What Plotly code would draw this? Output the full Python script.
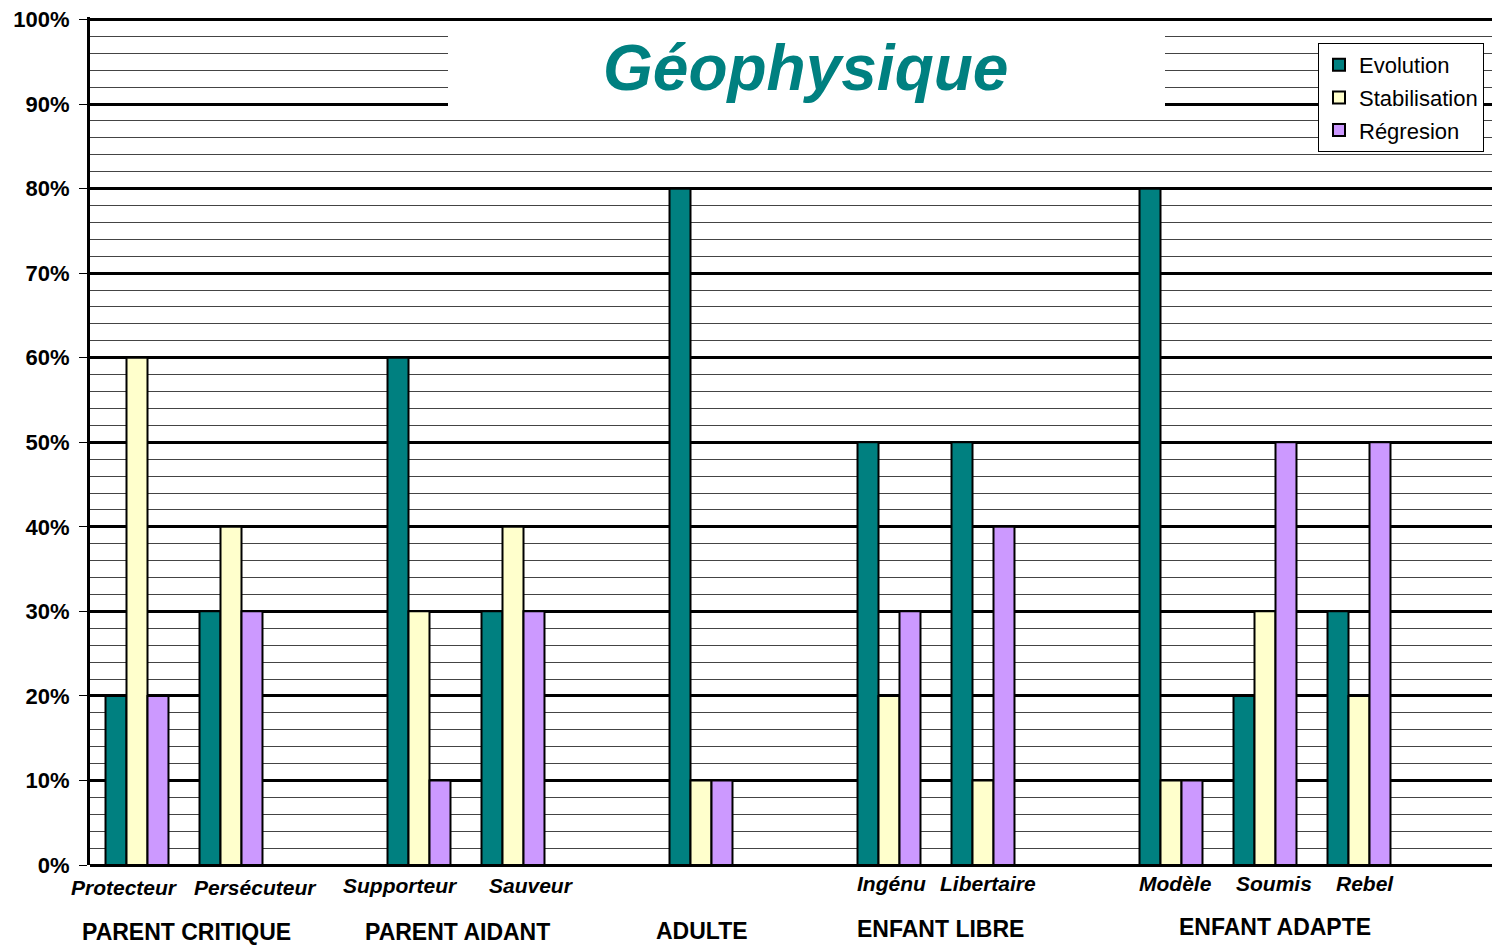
import plotly.graph_objects as go

# ---- data ----
categories = ["Protecteur", "Persécuteur", "", "Supporteur", "Sauveur", "", "Adulte", "",
              "Ingénu", "Libertaire", "", "Modèle", "Soumis", "Rebel", ""]
evolution =     [0.20, 0.30, None, 0.60, 0.30, None, 0.80, None, 0.50, 0.50, None, 0.80, 0.20, 0.30, None]
stabilisation = [0.60, 0.40, None, 0.30, 0.40, None, 0.10, None, 0.20, 0.10, None, 0.10, 0.30, 0.20, None]
regression =    [0.20, 0.30, None, 0.10, 0.30, None, 0.10, None, 0.30, 0.40, None, 0.10, 0.50, 0.50, None]
series_names = ["Evolution", "Stabilisation", "Régresion"]
group_labels = ["PARENT CRITIQUE", "PARENT AIDANT", "ADULTE", "ENFANT LIBRE", "ENFANT ADAPTE"]
title_text = "Géophysique"

# ---- style ----
colors = ["#008080", "#FFFFCC", "#CC99FF"]
FONT = "Liberation Sans, Arial, sans-serif"
xs = list(range(len(categories)))

fig = go.Figure()
for name, vals, col in zip(series_names, [evolution, stabilisation, regression], colors):
    fig.add_trace(go.Bar(
        x=xs, y=vals, name=name, legendgroup=name,
        marker=dict(color=col, line=dict(color="black", width=2)),
    ))

# category labels (bold italic), positioned under their slots
label_shift = {"Protecteur": (-13, -22), "Persécuteur": (24, -22), "Supporteur": (-19, -20),
               "Sauveur": (18, -20), "Ingénu": (2, -18), "Libertaire": (5, -18),
               "Modèle": (4, -18), "Soumis": (9, -18), "Rebel": (6, -18)}
for i, c in enumerate(categories):
    if c in label_shift:
        dx, dy = label_shift[c]
        fig.add_annotation(x=i, y=0, xref="x", yref="y", text=c, showarrow=False,
                           xshift=dx, yshift=dy,
                           font=dict(family=FONT, size=21, color="black", weight="bold", style="italic"))

# group labels
group_pos = [(0.5, -67, 2), (3.5, -67, -9), (6, -66, 1), (8.5, -64, 4), (12.0, -62, 10)]
for lab, (gx, dy, dx) in zip(group_labels, group_pos):
    fig.add_annotation(x=gx, y=0, xref="x", yref="y", text=lab, showarrow=False,
                       yshift=dy, xshift=dx,
                       font=dict(family=FONT, size=23, color="black", weight="bold"))

# white title box covering gridlines
fig.add_shape(type="rect", xref="paper", yref="y", x0=(448 - 90) / 1410, x1=(1165 - 90) / 1410,
              y0=0.8915, y1=0.9965, fillcolor="white", line=dict(width=0), layer="above")
fig.add_annotation(x=(805 - 90) / 1410, y=0.943, xref="paper", yref="y", text=title_text,
                   showarrow=False,
                   font=dict(family=FONT, size=64, color="#008080", weight="bold", style="italic"))

# page body has an 8px margin: figure is sized/offset to compensate
fig.update_layout(
    width=1492, height=937,
    margin=dict(l=82, r=0, t=9, b=80, autoexpand=False),
    paper_bgcolor="white", plot_bgcolor="white",
    barmode="group", bargap=0.33, bargroupgap=0,
    font=dict(family=FONT, color="black"),
    showlegend=True,
    legend=dict(x=(1318 - 90) / 1410, y=(865 - 43) / 848, xanchor="left", yanchor="top",
                bgcolor="white", bordercolor="black", borderwidth=1,
                font=dict(family=FONT, size=22, color="black"),
                itemwidth=30, tracegroupgap=1, traceorder="grouped"),
    xaxis=dict(range=[-0.5, 14.5], showticklabels=False, ticks="", showgrid=False,
               zeroline=False, showline=False, automargin=False),
    yaxis=dict(range=[0, 1.003], tickvals=[i / 10 for i in range(11)],
               ticktext=[f"{i*10}%" for i in range(11)],
               tickfont=dict(family=FONT, size=22, color="black", weight="bold"),
               ticks="outside", ticklen=8, tickcolor="black", tickwidth=1,
               ticklabelstandoff=5, automargin=False, ticklabeloverflow="allow",
               showgrid=True, gridcolor="black", gridwidth=3,
               minor=dict(dtick=0.02, showgrid=True, gridcolor="#444444", gridwidth=1),
               showline=True, linecolor="black", linewidth=3,
               zeroline=True, zerolinecolor="black", zerolinewidth=3),
)

fig.write_html("out.html")
